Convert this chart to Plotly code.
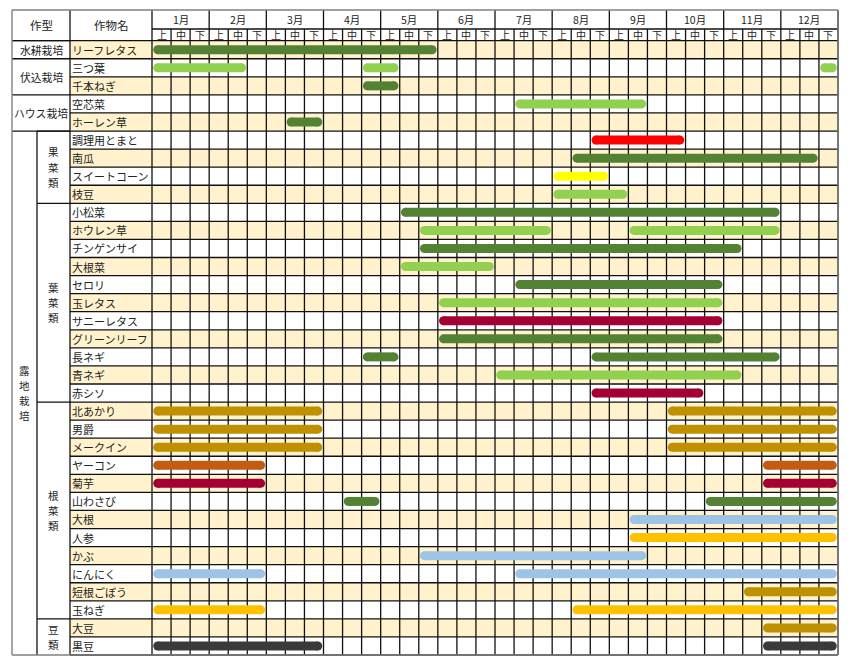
import plotly.graph_objects as go

# ---------------- data ----------------
months = [f"{m}月" for m in range(1, 13)]
dekads = ["上", "中", "下"]

crops = ["リーフレタス", "三つ葉", "千本ねぎ", "空芯菜", "ホーレン草",
         "調理用とまと", "南瓜", "スイートコーン", "枝豆",
         "小松菜", "ホウレン草", "チンゲンサイ", "大根菜", "セロリ", "玉レタス",
         "サニーレタス", "グリーンリーフ", "長ネギ", "青ネギ", "赤シソ",
         "北あかり", "男爵", "メークイン", "ヤーコン", "菊芋", "山わさび", "大根",
         "人参", "かぶ", "にんにく", "短根ごぼう", "玉ねぎ",
         "大豆", "黒豆"]

# colour key per crop
crop_colors = ["dkgreen", "ltgreen", "dkgreen", "ltgreen", "dkgreen",
               "red", "dkgreen", "yellow", "ltgreen",
               "dkgreen", "ltgreen", "dkgreen", "ltgreen", "dkgreen", "ltgreen",
               "crimson", "dkgreen", "dkgreen", "ltgreen", "crimson",
               "ochre", "ochre", "ochre", "orange", "crimson", "dkgreen", "ltblue",
               "gold", "ltblue", "ltblue", "ochre", "gold",
               "ochre", "charcoal"]

# periods per crop: (start dekad, end dekad), dekad 0 = 1月上旬, 36 = year end
periods = [
    [(0, 15)],
    [(0, 5), (11, 13), (35, 36)],
    [(11, 13)],
    [(19, 26)],
    [(7, 9)],
    [(23, 28)],
    [(22, 35)],
    [(21, 24)],
    [(21, 25)],
    [(13, 33)],
    [(14, 21), (25, 33)],
    [(14, 31)],
    [(13, 18)],
    [(19, 30)],
    [(15, 30)],
    [(15, 30)],
    [(15, 30)],
    [(11, 13), (23, 33)],
    [(18, 31)],
    [(23, 29)],
    [(0, 9), (27, 36)],
    [(0, 9), (27, 36)],
    [(0, 9), (27, 36)],
    [(0, 6), (32, 36)],
    [(0, 6), (32, 36)],
    [(10, 12), (29, 36)],
    [(25, 36)],
    [(25, 36)],
    [(14, 26)],
    [(0, 6), (19, 36)],
    [(31, 36)],
    [(0, 6), (22, 36)],
    [(32, 36)],
    [(0, 9), (32, 36)],
]

types = ["水耕栽培", "伏込栽培", "ハウス栽培", "露地栽培"]
type_rows = [(0, 1), (1, 3), (3, 5), (5, 34)]
subgroups = ["果菜類", "葉菜類", "根菜類", "豆類"]
subgroup_rows = [(5, 9), (9, 20), (20, 32), (32, 34)]

palette = {
    "dkgreen": "#548235",
    "ltgreen": "#92D050",
    "red": "#FF0000",
    "yellow": "#FFFF00",
    "crimson": "#A50034",
    "ochre": "#BF9000",
    "orange": "#C55A11",
    "ltblue": "#9DC3E6",
    "gold": "#FFC000",
    "charcoal": "#3A3A3A",
}

# ---------------- geometry (layout only) ----------------
W, H = 850, 665
GX0, GX1 = 152.0, 838.0
DW = (GX1 - GX0) / 36.0
RY0, RY1 = 40.7, 655.0
NROWS = len(crops)
RH = (RY1 - RY0) / NROWS


def px2x(p):
    return (p - GX0) / DW


def py2y(p):
    return (p - RY0) / RH


X_OUT = px2x(12)
X_SUB = px2x(37)
X_NAME = px2x(70)
Y_TOP = py2y(10)
Y_MID = py2y(29)

GRID = "#111111"
BORDER = "#808080"
BEIGE = "#FFF2CC"
FONT = "Noto Sans CJK JP"
TXT = "#222222"

shapes = []
annotations = []

# row backgrounds
for i in range(NROWS):
    if i % 2 == 0:
        shapes.append(dict(type="rect", xref="x", yref="y", x0=X_NAME, x1=36, y0=i, y1=i + 1,
                           fillcolor=BEIGE, line=dict(width=0), layer="below"))


def hline(y, x0, x1, color=GRID, w=1.3):
    shapes.append(dict(type="line", xref="x", yref="y", x0=x0, x1=x1, y0=y, y1=y,
                       line=dict(color=color, width=w), layer="below"))


def vline(x, y0, y1, color=GRID, w=1.3):
    shapes.append(dict(type="line", xref="x", yref="y", x0=x, x1=x, y0=y0, y1=y1,
                       line=dict(color=color, width=w), layer="below"))


# vertical dekad lines
for k in range(0, 37):
    top = Y_TOP if k % 3 == 0 else Y_MID
    vline(k, top, NROWS)
# horizontal row lines
for i in range(0, NROWS + 1):
    hline(i, X_NAME, 36)
hline(Y_MID, 0, 36)
hline(0, X_OUT, X_NAME)
# group boundaries in type column
for (a, b) in type_rows:
    hline(a, X_OUT, X_NAME)
for (a, b) in subgroup_rows:
    hline(a, X_SUB, X_NAME)
vline(X_NAME, Y_TOP, NROWS)
vline(X_SUB, type_rows[3][0], NROWS)
# outer border
hline(Y_TOP, X_OUT, 36, BORDER, 1.4)
hline(NROWS, X_OUT, 36, BORDER, 1.4)
vline(X_OUT, Y_TOP, NROWS, BORDER, 1.4)
vline(36, Y_TOP, NROWS, BORDER, 1.4)


def ann(x, y, text, size=11, xanchor="center"):
    annotations.append(dict(x=x, y=y, xref="x", yref="y", text=text, showarrow=False,
                            xanchor=xanchor, yanchor="middle", borderpad=0, borderwidth=0,
                            font=dict(family=FONT, size=size, color=TXT)))


def vtext(x, yc, text, size=10.5, step_px=15.3):
    n = len(text)
    step = step_px / RH
    for j, ch in enumerate(text):
        ann(x, yc + (j - (n - 1) / 2) * step, ch, size)


# header
ann((X_OUT + X_NAME) / 2, (Y_TOP + 0) / 2, "作型", 11.5)
ann((X_NAME + 0) / 2, (Y_TOP + 0) / 2, "作物名", 11.5)
for m, lab in enumerate(months):
    ann(3 * m + 1.5, (Y_TOP + Y_MID) / 2, lab, 10.5)
    for d, dl in enumerate(dekads):
        ann(3 * m + d + 0.5, (Y_MID + 0) / 2, dl, 10)

# type labels
for t, (a, b) in zip(types, type_rows):
    if t == "露地栽培":
        vtext((X_OUT + X_SUB) / 2, (a + b) / 2, t)
    else:
        ann((X_OUT + X_NAME) / 2, (a + b) / 2, t, 10.8)
for s, (a, b) in zip(subgroups, subgroup_rows):
    vtext((X_SUB + X_NAME) / 2, (a + b) / 2, s)

# crop names
for i, c in enumerate(crops):
    ann(px2x(72), i + 0.5, c, 11, xanchor="left")

# ---------------- bars ----------------
INSET = 0.3
fig = go.Figure()
for key, col in palette.items():
    xs, ys = [], []
    for i, (ck, segs) in enumerate(zip(crop_colors, periods)):
        if ck != key:
            continue
        for (s, e) in segs:
            xs += [s + INSET, e - INSET, None]
            ys += [i + 0.5, i + 0.5, None]
    if xs:
        fig.add_trace(go.Scatter(x=xs, y=ys, mode="lines+markers",
                                 line=dict(color=col, width=9),
                                 marker=dict(color=col, size=9, line=dict(width=0)),
                                 hoverinfo="skip", showlegend=False))

fig.update_layout(
    width=W, height=H,
    margin=dict(l=0, r=0, t=0, b=0),
    paper_bgcolor="white", plot_bgcolor="white",
    xaxis=dict(range=[px2x(0), px2x(W)], visible=False, fixedrange=True),
    yaxis=dict(range=[py2y(H), py2y(0)], visible=False, fixedrange=True),
    shapes=shapes, annotations=annotations,
    showlegend=False,
)

fig.write_html("out.html", config={"displayModeBar": False},
               post_script="document.body.style.margin='0';document.body.style.overflow='hidden';")
